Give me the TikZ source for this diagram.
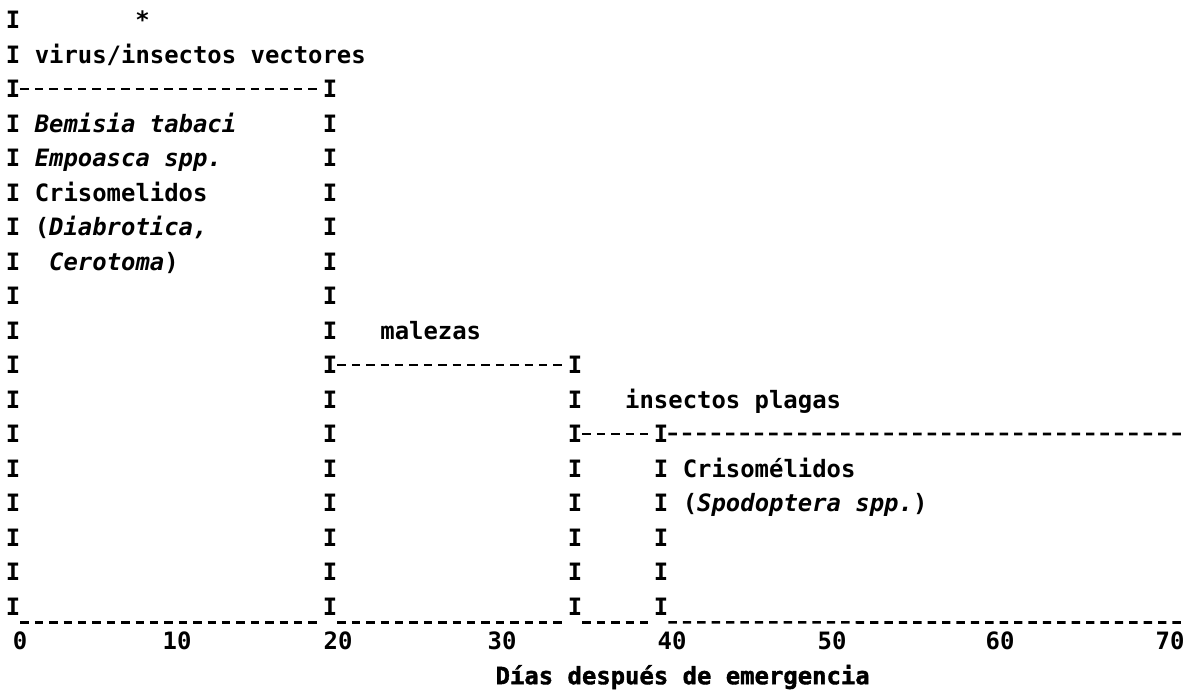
\documentclass[tikz,border=0pt]{standalone}
\usepackage{fontspec}
\newfontfamily\dotfont{DejaVu Sans Mono}
\newfontfamily\heavyfont[FakeBold=1.5]{DejaVu Sans Mono Bold}

\tikzset{
  dot/.style={font={\dotfont\bfseries\fontsize{23.9pt}{34pt}\selectfont}, inner sep=0pt, anchor=base},
  bar/.style={dot},
  txt/.style={dot, anchor=base west},
  rule/.style={line width=2.6pt, dash pattern=on 8.4pt off 6pt},
}

\begin{document}
\begin{tikzpicture}[x=1pt,y=-1pt]
    % Frame of the page
    \useasboundingbox (0,0) rectangle (1185,697);

    % The columns of I's
    \foreach \r in {1,...,18}
        \node[bar] (a\r) at (13,{28.7+34.5*(\r-1)}) {I};
    \foreach \r in {3,...,18}
        \node[bar] (b\r) at (330,{28.7+34.5*(\r-1)}) {I};
    \foreach \r in {11,...,18}
        \node[bar] (c\r) at (575,{28.7+34.5*(\r-1)}) {I};
    \foreach \r in {13,...,18}
        \node[bar] (d\r) at (661,{28.7+34.5*(\r-1)}) {I};

    % The dashed rules between the columns
    \coordinate (e13) at (1185,434);
    \draw[rule] (a3.east) -- (b3.west);
    \draw[rule] (b11.east) -- (c11.west);
    \draw[rule] (c13.east) -- (d13.west);
    \draw[rule] (d13.east) -- (e13);

    % The bottom line
    \coordinate (e18) at (1185,622.5);
    \draw[rule] ([yshift=-7pt]a18.south east) -- ([yshift=-7pt]b18.south west);
    \draw[rule] ([yshift=-7pt]b18.south east) -- ([yshift=-7pt]c18.south west);
    \draw[rule] ([yshift=-7pt]c18.south east) -- ([yshift=-7pt]d18.south west);
    \draw[rule] ([yshift=-7pt]d18.south east) -- (e18);

    % Labels
    \node[dot] (star) at (142.6,28.7) {*};
    \node[txt] (vir) at (34.6,63.2) {virus/insectos vectores};
    \node[txt] (bem) at (34.6,132.2) {\itshape Bemisia tabaci};
    \node[txt] (emp) at (34.6,166.7) {\itshape Empoasca spp.};
    \node[txt] (cri) at (34.6,201.2) {Crisomelidos};
    \node[txt] (dia) at (34.6,235.7) {(\textit{Diabrotica,}};
    \node[txt] (cer) at (49,270.2) {\textit{Cerotoma})};
    \node[txt] (mal) at (380.2,339.2) {malezas};
    \node[txt] (ins) at (625,408.2) {insectos plagas};
    \node[txt] (cri2) at (682.6,477.2) {Crisomélidos};
    \node[txt] (spo) at (682.6,511.7) {(\textit{Spodoptera spp.})};

    % Axis numbers
    \foreach \x/\n in {20/0,177/10,338/20,502/30,672/40,832/50,1000/60,1170/70}
        \node[dot] (n\n) at (\x,649.7) {\n};
    \node[txt, font={\heavyfont\fontsize{23.9pt}{34pt}\selectfont}] (title) at (495.4,684.2) {Días después de emergencia};
\end{tikzpicture}
\end{document}
